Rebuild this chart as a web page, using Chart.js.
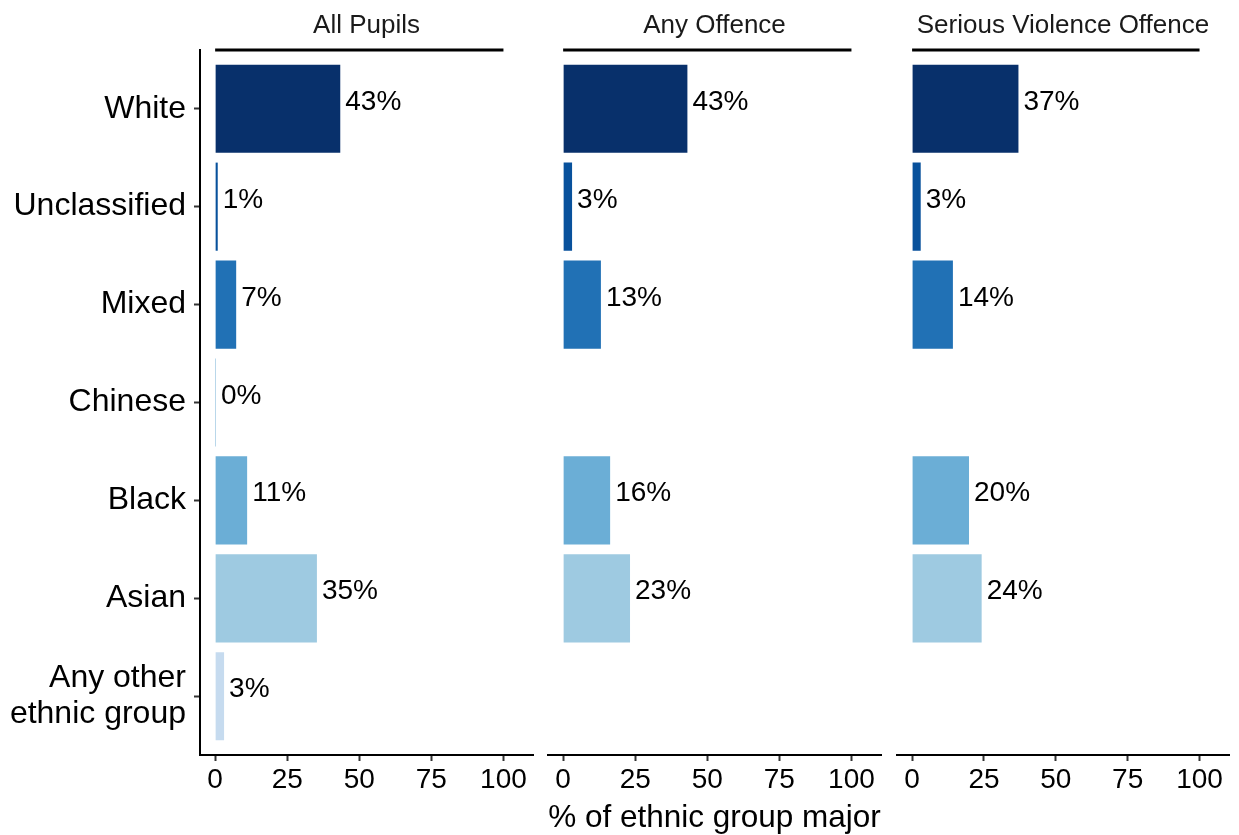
<!DOCTYPE html>
<html><head><meta charset="utf-8">
<script src="https://cdn.jsdelivr.net/npm/chart.js@4.4.0/dist/chart.umd.min.js"></script>
<style>
html,body{margin:0;padding:0;background:#fff;width:1239px;height:835px;overflow:hidden}
canvas{position:absolute;top:0}
</style></head><body>
<canvas id="c1" width="540" height="835" style="left:0px"></canvas>
<canvas id="c2" width="350" height="835" style="left:540px"></canvas>
<canvas id="c3" width="349" height="835" style="left:890px"></canvas>
<script>
const categories = ['White','Unclassified','Mixed','Chinese','Black','Asian','Any other ethnic group'];
const categoryTickLabels = ['White','Unclassified','Mixed','Chinese','Black','Asian',['Any other','ethnic group']];
const panelTitles = ['All Pupils','Any Offence','Serious Violence Offence'];
const allPupils = [43.4, 0.9, 7.3, 0.3, 11.1, 35.3, 3.1];
const anyOffence = [43.1, 3.1, 13.1, null, 16.3, 23.2, null];
const seriousViolence = [37.0, 3.0, 14.2, null, 19.8, 24.2, null];
const xTicks = [0, 25, 50, 75, 100];
const xTitle = '% of ethnic group major';

const barColors = ['#08306b','#08519c','#2171b5','#4292c6','#6baed6','#9ecae1','#c6dbef'];
const FONT = '"Liberation Sans", Arial, sans-serif';

const labelPlugin = {
  id: 'vlabels',
  afterDatasetsDraw(chart) {
    const ctx = chart.ctx;
    const meta = chart.getDatasetMeta(0);
    const ds = chart.data.datasets[0].data;
    ctx.save();
    ctx.font = '28px ' + FONT;
    ctx.fillStyle = '#000';
    ctx.textAlign = 'left';
    ctx.textBaseline = 'alphabetic';
    meta.data.forEach((bar, i) => {
      const p = bar.getProps(['x', 'y'], true);
      ctx.fillText(Math.round(ds[i].x) + '%', p.x + 5, p.y + 1);
    });
    ctx.restore();
  }
};

const stripPlugin = {
  id: 'strip',
  afterDraw(chart, args, opts) {
    const { ctx, chartArea } = chart;
    const x = chart.scales.x;
    ctx.save();
    ctx.strokeStyle = '#000';
    ctx.lineWidth = 3;
    ctx.beginPath();
    ctx.moveTo(x.getPixelForValue(0), chartArea.top);
    ctx.lineTo(x.getPixelForValue(100), chartArea.top);
    ctx.stroke();
    ctx.font = '26px ' + FONT;
    ctx.fillStyle = '#1a1a1a';
    ctx.textAlign = 'center';
    ctx.textBaseline = 'alphabetic';
    ctx.fillText(opts.text, (chartArea.left + chartArea.right) / 2, chartArea.top - 17);
    ctx.restore();
  }
};

function makeChart(id, values, title, o) {
  const pts = [];
  values.forEach((v, i) => { if (v !== null) pts.push({ x: v, y: i }); });
  return new Chart(document.getElementById(id), {
    type: 'bar',
    data: { datasets: [{
      data: pts,
      backgroundColor: c => (c.raw ? barColors[c.raw.y] : barColors[0]),
      borderWidth: 0,
      barPercentage: 0.9,
      categoryPercentage: 1
    }] },
    plugins: [labelPlugin, stripPlugin],
    options: {
      responsive: false,
      animation: false,
      devicePixelRatio: 1,
      indexAxis: 'y',
      layout: { padding: { left: o.padL, right: o.padR, top: 50, bottom: 0 } },
      plugins: { legend: { display: false }, tooltip: { enabled: false }, strip: { text: title } },
      scales: {
        x: {
          type: 'linear', min: -5.25, max: 110.25, offset: false,
          afterBuildTicks: s => { s.ticks = xTicks.map(v => ({ value: v })); },
          afterFit: s => { s.height = 80; },
          grid: { offset: false, drawOnChartArea: false, drawTicks: true, tickLength: 6, tickColor: '#333', tickWidth: 2 },
          border: { display: true, color: '#000', width: 2 },
          ticks: { font: { size: 28, family: FONT }, color: '#000', padding: 2, maxRotation: 0, autoSkip: false },
          title: { display: !!o.showTitle, text: xTitle, font: { size: 31.5, family: FONT, lineHeight: 1 }, color: '#000', padding: { top: 0, bottom: 1 } }
        },
        y: {
          type: 'linear', min: -0.6, max: 6.6, reverse: true, display: !!o.showY, offset: false,
          afterBuildTicks: s => { s.ticks = categories.map((c, i) => ({ value: i })); },
          afterFit: s => { if (o.showY) s.width = 200; },
          grid: { offset: false, drawOnChartArea: false, drawTicks: true, tickLength: 6, tickColor: '#333', tickWidth: 2 },
          border: { display: true, color: '#000', width: 2 },
          ticks: { callback: v => categoryTickLabels[v], font: { size: 32, family: FONT, lineHeight: 1.12 }, color: '#000', padding: 8, autoSkip: false }
        }
      }
    }
  });
}

makeChart('c1', allPupils, panelTitles[0], { padL: 0, padR: 7, showY: true });
makeChart('c2', anyOffence, panelTitles[1], { padL: 8, padR: 9, showTitle: true });
makeChart('c3', seriousViolence, panelTitles[2], { padL: 7, padR: 10 });
</script>
</body></html>
